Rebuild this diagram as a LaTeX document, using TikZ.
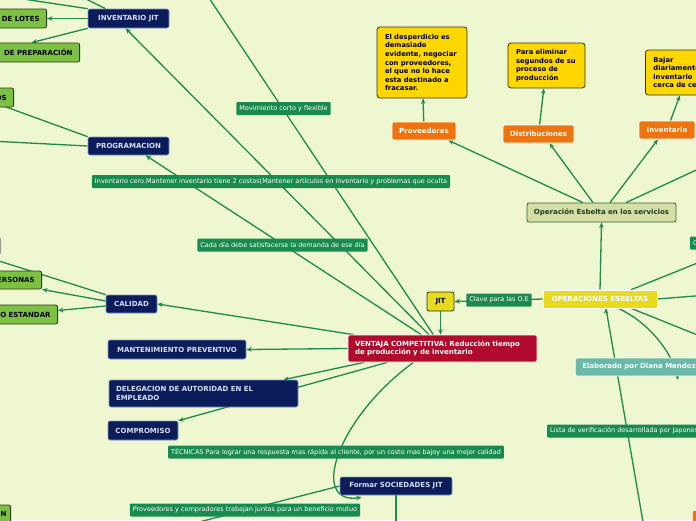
\documentclass[tikz,border=0pt]{standalone}
\usepackage{fontspec}
\setmainfont{DejaVu Sans}
\usetikzlibrary{positioning,arrows.meta}

\definecolor{bgcolor}{HTML}{EEF7D0}
\definecolor{linegreen}{HTML}{1E8A4C}
\definecolor{labelgreen}{HTML}{1A8A4E}
\definecolor{navy}{HTML}{0B1C5A}
\definecolor{navyline}{HTML}{8095C8}
\definecolor{navytext}{HTML}{D6DEF4}
\definecolor{leafgreen}{HTML}{7DC142}
\definecolor{leafline}{HTML}{2B3A17}
\definecolor{crimson}{HTML}{B00A2C}
\definecolor{jityellow}{HTML}{E8DA1E}
\definecolor{gold}{HTML}{FFD700}
\definecolor{orangebox}{HTML}{EE7410}
\definecolor{tealbox}{HTML}{69B8A8}
\definecolor{oliveface}{HTML}{D4DFA6}
\definecolor{olivedark}{HTML}{35603A}
\definecolor{olivetext}{HTML}{1E3A22}
\definecolor{greyface}{HTML}{D9DCD2}
\definecolor{greyline}{HTML}{9BA090}

\pgfdeclarelayer{bg}
\pgfdeclarelayer{edges}
\pgfsetlayers{bg,edges,main}

\begin{document}
\begin{tikzpicture}[x=1pt,y=-1pt,>={Stealth[length=5.5pt,width=4.5pt]},
    topic node/.style={draw=navyline,line width=0.6pt,fill=navy,text=navytext,rounded corners=2pt,font=\bfseries\fontsize{7}{8.6}\selectfont,inner sep=0pt,minimum height=19pt},
    leaf node/.style={draw=leafline,line width=0.8pt,fill=leafgreen,text=black,rounded corners=2pt,font=\bfseries\fontsize{7}{8.6}\selectfont,inner ysep=0pt,inner xsep=7pt,minimum height=19pt,anchor=east,align=right},
    note node/.style={draw=leafline,line width=0.8pt,fill=gold,text=black,rounded corners=3pt,font=\bfseries\fontsize{6.8}{8.6}\selectfont,inner ysep=0pt,inner xsep=8pt,align=left},
    branch node/.style={draw=white,line width=0.6pt,fill=orangebox,text=white,rounded corners=2pt,font=\bfseries\fontsize{7}{8.6}\selectfont,inner sep=0pt,minimum height=18pt},
    label node/.style={fill=labelgreen,text=white,rounded corners=1pt,font=\fontsize{6.5}{7.6}\selectfont,inner xsep=3pt,inner ysep=0pt,minimum height=13pt},
    link/.style={->,draw=linegreen,line width=1.3pt}]

    \begin{pgfonlayer}{bg}
        \fill[bgcolor] (0,0) rectangle (696,520);
    \end{pgfonlayer}
    \useasboundingbox (0,0) rectangle (696,520);

    % centro
    \node[draw=white,line width=0.6pt,fill=crimson,text=white,rounded corners=2pt,font=\bfseries\fontsize{7}{8.6}\selectfont,inner xsep=7pt,inner ysep=0pt,minimum height=27pt,text width=175pt,align=left] (ventaja) at (442.5,348.5) {VENTAJA COMPETITIVA: Reducción tiempo\\de producción y de inventario};
    \node[draw=leafline,line width=0.8pt,fill=jityellow,text=black,rounded corners=2pt,font=\bfseries\fontsize{7}{8.6}\selectfont,inner sep=0pt,minimum width=27pt,minimum height=19pt] (jit) at (440.5,301.5) {JIT};
    \node[draw=white,line width=0.6pt,fill=jityellow,text=white,font=\bfseries\fontsize{7}{8.6}\selectfont,inner sep=0pt,minimum width=114pt,minimum height=18pt] (opes) at (600,299) {OPERACIONES ESBELTAS};
    \node[draw=olivedark,line width=0.8pt,fill=oliveface,text=olivetext,rounded corners=2pt,font=\bfseries\fontsize{7}{8.6}\selectfont,inner sep=0pt,minimum width=149pt,minimum height=19pt] (opserv) at (601.5,212.5) {Operación Esbelta en los servicios};
    \node[draw=white,line width=0.6pt,fill=tealbox,text=white,rounded corners=2pt,font=\bfseries\fontsize{7}{8.6}\selectfont,inner xsep=7pt,inner ysep=0pt,minimum height=18pt,anchor=west] (elab) at (575,367) {Elaborado por Diana Mendoza};

    % ramas izquierda
    \node[topic node,minimum width=81pt] (invjit) at (128.5,18.5) {INVENTARIO JIT};
    \node[topic node,minimum width=81pt,minimum height=18pt] (prog) at (128.5,146) {PROGRAMACION};
    \node[topic node,minimum width=51pt,minimum height=18pt] (calidad) at (131.5,304) {CALIDAD};
    \node[topic node,minimum width=138pt] (mant) at (177,349.5) {MANTENIMIENTO PREVENTIVO};
    \node[topic node,inner xsep=7pt,minimum height=27pt,text width=175pt,align=left] (deleg) at (203.5,393.5) {DELEGACION DE AUTORIDAD EN EL\\EMPLEADO};
    \node[topic node,minimum width=70pt] (comp) at (143,430.5) {COMPROMISO};
    \node[topic node,minimum width=112pt,minimum height=18pt] (soc) at (396,486) {Formar SOCIEDADES JIT};

    \node[leaf node,text width=60pt] (lotes) at (47,18.5) {DE LOTES};
    \node[leaf node,text width=82pt] (prep) at (80,52.5) {DE PREPARACIÓN};
    \node[leaf node,text width=30pt] (os) at (14,97.5) {OS};
    \node[draw=greyline,line width=0.8pt,fill=greyface,rounded corners=2pt,anchor=east,minimum width=40pt,minimum height=17pt] (grey) at (1,246) {};
    \node[leaf node,text width=60pt,minimum height=18pt] (personas) at (42,280) {PERSONAS};
    \node[leaf node,text width=70pt] (estandar) at (58,314.5) {O ESTANDAR};
    \node[leaf node,text width=30pt,inner xsep=4pt,minimum height=18pt] (n) at (11,514) {N};

    % ramas arriba
    \node[branch node,minimum width=64pt] (prov) at (424,131) {Proveedores};
    \node[branch node,minimum width=71pt] (dist) at (538.5,134) {Distribuciones};
    \node[branch node,minimum width=56pt] (inv) at (667,130) {Inventario};
    \node[branch node,anchor=north west,minimum width=40pt] (orng) at (692,510) {};

    \node[note node,text width=74pt,minimum height=71pt] (note1) at (422,62.5) {El desperdicio es\\demasiado\\evidente, negociar\\con proveedores,\\el que no lo hace\\esta destinado a\\fracasar.};
    \node[note node,text width=61pt,minimum height=45pt] (note2) at (546.5,65.5) {Para eliminar\\segundos de su\\proceso de\\producción};
    \node[note node,text width=70pt,minimum height=45pt,anchor=west] (note3) at (645,72.5) {Bajar\\diariamente\\inventario\\cerca de cero};

    % extremos fuera del cuadro
    \coordinate (offul1) at (-10,-6);
    \coordinate (offul2) at (80,-4);
    \coordinate (offtop) at (205,-8);
    \coordinate (offos) at (-20,97.5);
    \coordinate (offleft) at (-20,140.5);
    \coordinate (offgrey) at (-20,255);
    \coordinate (offr1) at (720,159);
    \coordinate (offr2) at (720,294);
    \coordinate (offr3) at (720,254);
    \coordinate (offr4) at (720,344);
    \coordinate (offbot) at (647,545);
    \coordinate (offbl) at (160,532);
    \coordinate (offdown) at (396,530);
    \coordinate (relend) at (678,380);

    \begin{pgfonlayer}{edges}
    \path[link]
        (invjit.west) edge[link] (lotes.east)
        (invjit.south west) edge[link] (prep.north)
        (invjit.north west) edge[link] (offul1)
        ([xshift=-23pt]invjit.north) edge[link] (offul2)
        (ventaja) edge[link] ([xshift=-3pt]invjit.south)
        (ventaja) edge[link] ([xshift=17pt]prog.south)
        (ventaja) edge[link] (offtop)
        (prog.north west) edge[link] (offos)
        (prog.west) edge[link] (offleft)
        (ventaja) edge[link] (calidad.east)
        ([yshift=3pt]calidad.west) edge[link] (personas.south east)
        ([yshift=-2pt]calidad.west) edge[link] ([yshift=4pt]estandar.east)
        (calidad.north west) edge[link] (offgrey)
        (ventaja.west) edge[link] (mant.east)
        ([xshift=-78pt]ventaja.south) edge[link] ([xshift=80pt]deleg.north)
        ([xshift=-55pt]ventaja.south) edge[link] (comp.north east)
        (soc.west) edge[link] (offbl)
        (soc.south) edge[link] (offdown)
        (opes.west) edge[link] (jit.east)
        (jit.south) edge[link] (jit.south |- ventaja.north)
        (opes.north) edge[link] (opserv.south)
        ([xshift=-18.5pt]opserv.north) edge[link] ([xshift=-8pt]prov.south east)
        ([xshift=-8.5pt]opserv.north) edge[link] ([xshift=11pt]dist.south)
        ([xshift=8.5pt]opserv.north) edge[link] ([xshift=-9pt]inv.south)
        ([xshift=24.5pt]opserv.north) edge[link] (offr1)
        (prov) edge[link] (note1)
        (dist) edge[link] (note2)
        (inv) edge[link] (note3)
        (opes.east) edge[link] (offr2)
        ([xshift=31pt]opes.north) edge[link] (offr3)
        ([xshift=31pt]opes.south) edge[link] (offr4)
        ([xshift=6pt]opes.south) edge[link] (offbot)
        ;
    \draw[link] ([xshift=-29pt]ventaja.south) .. controls (335,420) and (310,505) .. ([xshift=22pt,yshift=-2pt]soc.south west);
    \draw[link] ([xshift=18pt]opes.south) .. controls (645,320) and (672,350) .. (relend);
    \end{pgfonlayer}

    % etiquetas de conectores
    \node[label node] (movcorto) at (283.5,108.5) {Movimiento corto y flexible};
    \node[label node] (invcero) at (271,181.5) {Inventario cero.Mantener inventario tiene 2 costos(Mantener artículos en inventario y problemas que oculta};
    \node[label node] (cada) at (282.5,245) {Cada día debe satisfacerse la demanda de ese día};
    \node[label node] (clave) at (499,300) {Clave para las O.E};
    \node[label node] (tecnicas) at (336,452) {TÉCNICAS Para lograr una respuesta mas rápida al cliente, por un costo mas bajoy una mejor calidad};
    \node[label node] (provcomp) at (245,510) {Proveedores y compradores trabajan juntos para un beneficio mutuo};
    \node[label node,anchor=west] (lista) at (547,431) {Lista de verificación desarrollada por Japoneses};
    \node[label node,anchor=west] (oplabel) at (690,243) {C};
\end{tikzpicture}
\end{document}
